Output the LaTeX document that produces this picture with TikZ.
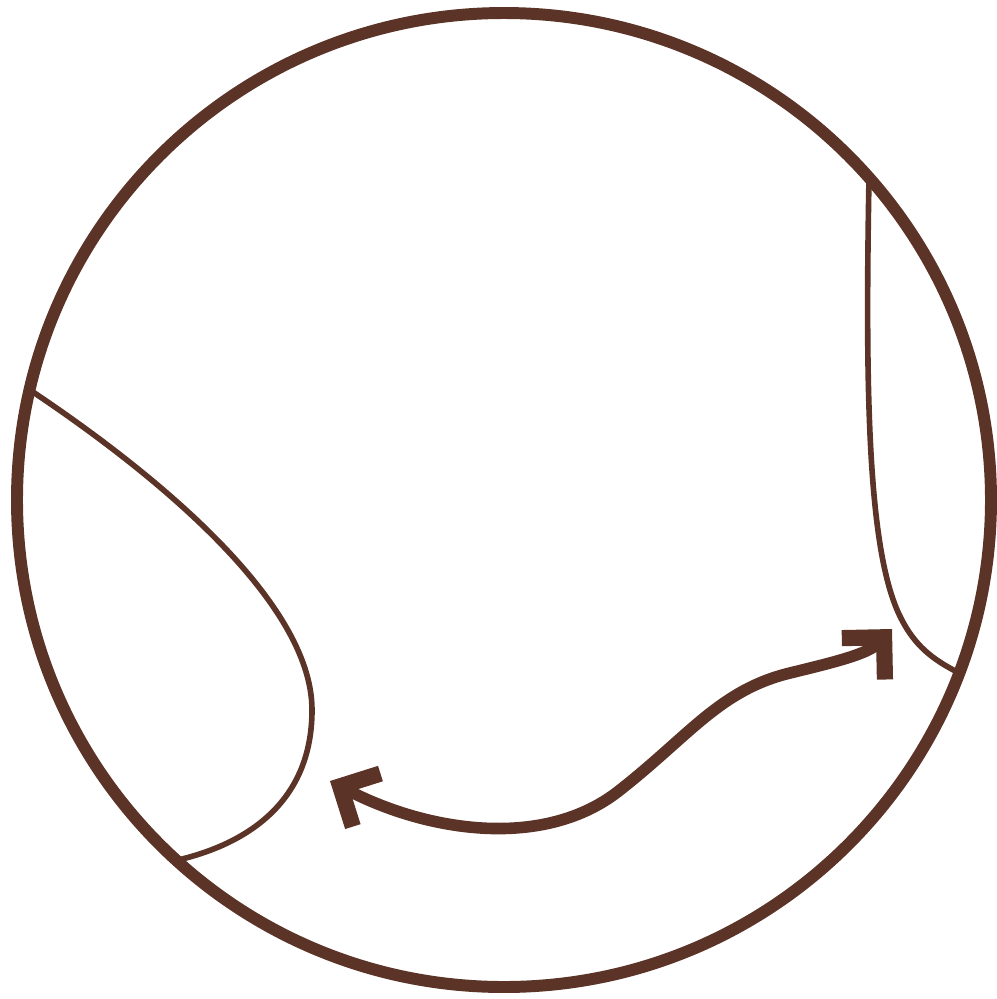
\documentclass[tikz,border=0pt]{standalone}
\usepackage{tikz}
\usetikzlibrary{arrows.meta}
\definecolor{bark}{HTML}{5B3427}

\begin{document}
\begin{tikzpicture}[x=0.01cm,y=-0.01cm]
        \useasboundingbox (0,0) rectangle (997,999);
        \draw[line width=3.4pt,bark] (504,500) circle[radius=487];
        % left and right boundary curves
        \draw[line width=1.6pt,bark] (30,390) .. controls (150,470) and (312,600) .. (312,710) .. controls (312,800) and (250,843) .. (178,860);
        \draw[line width=1.6pt,bark] (869,178) .. controls (865,400) and (868,560) .. (903,622) .. controls (918,650) and (938,662) .. (959,673);
        % wavy double arrow
        \coordinate (lefttip) at (330,781);
        \coordinate (righttip) at (892,629);
        \draw[line width=3.3pt,bark,{Straight Barb[sharp,length=8.5pt,width=17pt,line width=4.6pt 0]}-{Straight Barb[sharp,length=8.5pt,width=17pt,line width=4.6pt 0]}]
          (lefttip) .. controls (428,832) and (545,850) .. (620,790) .. controls (690,735) and (720,690) .. (790,673) .. controls (835,662) and (868,654) .. (righttip);
      \end{tikzpicture}
\end{document}
